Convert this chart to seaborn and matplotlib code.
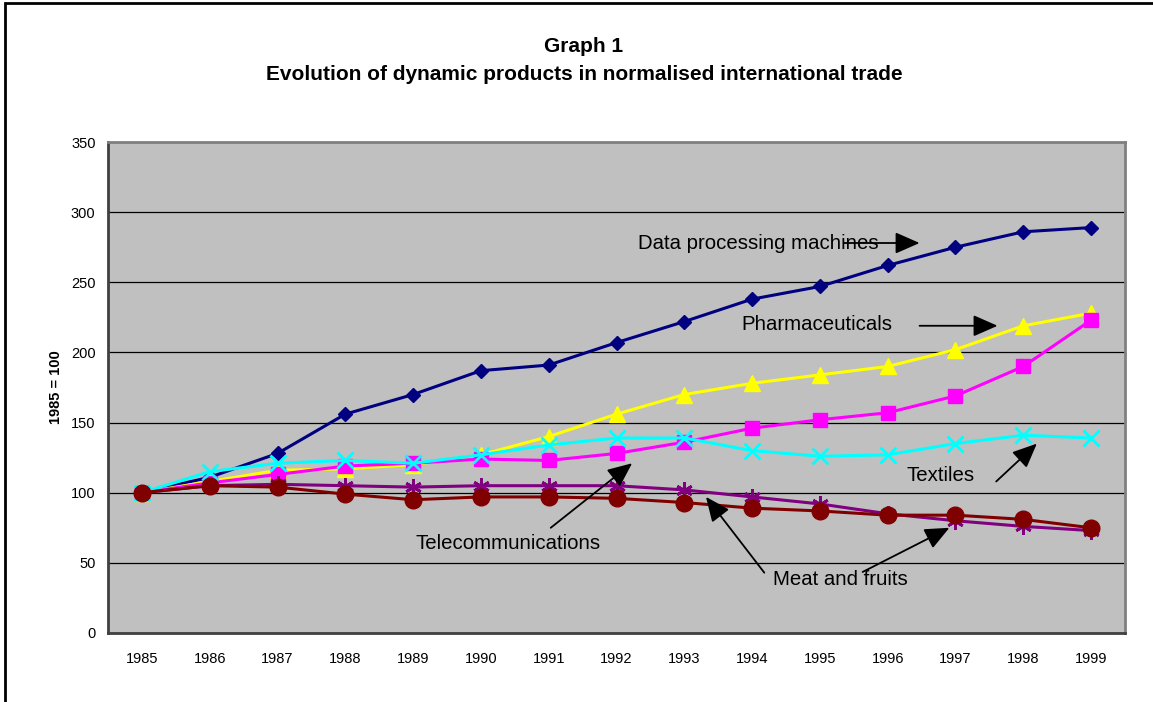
import numpy as np
import pandas as pd
import matplotlib
matplotlib.use("Agg")
import matplotlib.pyplot as plt
from matplotlib.patches import Rectangle
import seaborn as sns

years = [1985, 1986, 1987, 1988, 1989, 1990, 1991, 1992, 1993, 1994, 1995, 1996, 1997, 1998, 1999]
data_processing = [100, 111, 128, 156, 170, 187, 191, 207, 222, 238, 247, 262, 275, 286, 289]
pharmaceuticals = [100, 108, 116, 117, 120, 127, 140, 156, 170, 178, 184, 190, 202, 219, 228]
telecommunications = [100, 107, 113, 119, 121, 124, 123, 128, 136, 146, 152, 157, 169, 190, 223]
textiles = [100, 115, 121, 123, 121, 127, 134, 139, 139, 130, 126, 127, 135, 141, 139]
meat = [100, 105, 106, 105, 104, 105, 105, 105, 102, 97, 92, 85, 80, 76, 73]
fruits = [100, 105, 104, 99, 95, 97, 97, 96, 93, 89, 87, 84, 84, 81, 75]
yticks = [0, 50, 100, 150, 200, 250, 300, 350]

sns.set_style("white")
plt.rcParams['font.family'] = ['Liberation Sans', 'DejaVu Sans']
plt.rcParams['text.color'] = 'black'
plt.rcParams['xtick.color'] = 'black'
plt.rcParams['ytick.color'] = 'black'
plt.rcParams['axes.labelcolor'] = 'black'

W, H = 1153, 702
fig = plt.figure(figsize=(W / 100, H / 100), dpi=100)
ax = fig.add_axes([108 / W, (H - 633) / H, (1125 - 108) / W, (633 - 142) / H])
ax.set_facecolor('#C0C0C0')

pos = np.arange(len(years))
series = [
    (data_processing, '#000080', 'D', 7, '#000080'),
    (pharmaceuticals, '#FFFF00', '^', 11, '#FFFF00'),
    (telecommunications, '#FF00FF', 's', 10, '#FF00FF'),
    (textiles, '#00FFFF', 'x', 11, '#00FFFF'),
    (meat, '#800080', (6, 2, 0), 12, '#800080'),
    (fruits, '#800000', 'o', 12, '#800000'),
]
for vals, col, mk, ms, mec in series:
    sns.lineplot(x=pos, y=vals, ax=ax, color=col, linewidth=2.2, marker=mk,
                 markersize=ms, markeredgecolor=mec, markeredgewidth=2 if mk in ('x', (6, 2, 0)) else 1,
                 zorder=3)

ax.set_xlim(-0.5, len(years) - 0.5)
ax.set_ylim(0, 350)
ax.set_yticks(yticks)
ax.set_yticklabels([str(t) for t in yticks], fontsize=10.5)
ax.yaxis.grid(True, color='black', linewidth=0.9)
ax.set_axisbelow(True)
ax.set_xticks(pos)
ax.set_xticklabels([str(y) for y in years], fontsize=10.5)
ax.set_xticks(np.arange(len(years) + 1) - 0.5, minor=True)
ax.tick_params(axis='x', which='major', length=0, pad=14)
ax.tick_params(axis='x', which='minor', length=5, width=1.2, color='#303030', direction='out')
ax.tick_params(axis='y', length=5, width=1.2, color='#303030', direction='out', pad=4)
ax.set_xlabel('')
ax.set_ylabel('1985 = 100', fontsize=10.5, fontweight='bold', labelpad=6)
for s in ['left', 'bottom']:
    ax.spines[s].set_color('#404040')
    ax.spines[s].set_linewidth(2)
for s in ['top', 'right']:
    ax.spines[s].set_color('#808080')
    ax.spines[s].set_linewidth(2)

fig.text(584 / W, 1 - 47 / H, 'Graph 1', ha='center', va='center', fontsize=15, fontweight='bold')
fig.text(584 / W, 1 - 75 / H, 'Evolution of dynamic products in normalised international trade',
         ha='center', va='center', fontsize=15, fontweight='bold')

fs = 14.7
ax.text(7.31, 278, 'Data processing machines', fontsize=fs, va='center', ha='left', zorder=5)
ax.text(8.84, 220, 'Pharmaceuticals', fontsize=fs, va='center', ha='left', zorder=5)
ax.text(11.27, 112, 'Textiles', fontsize=fs, va='center', ha='left', zorder=5)
ax.text(4.03, 64, 'Telecommunications', fontsize=fs, va='center', ha='left', zorder=5)
ax.text(9.31, 38, 'Meat and fruits', fontsize=fs, va='center', ha='left', zorder=5)

arrows = [
    ((10.36, 278), (11.47, 278)),
    ((11.47, 219), (12.62, 219)),
    ((12.60, 108), (13.20, 135)),
    ((6.03, 75), (7.23, 121)),
    ((9.18, 43), (8.32, 97)),
    ((10.63, 43.5), (11.91, 75)),
]
for tail, head in arrows:
    ax.annotate('', xy=head, xytext=tail,
                arrowprops=dict(arrowstyle='-|>,head_length=0.75,head_width=0.33',
                                color='black', lw=1.3, mutation_scale=20,
                                shrinkA=0, shrinkB=0), zorder=6)

fig.patches.append(Rectangle((5 / W, -0.05), 1.2, 1.05 - 3 / H, transform=fig.transFigure,
                             fill=False, edgecolor='black', linewidth=2, zorder=10))

fig.savefig('out.png', dpi=100)
